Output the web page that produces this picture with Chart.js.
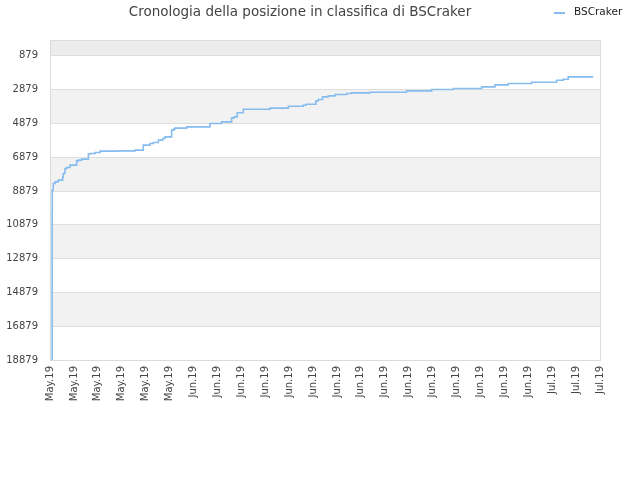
<!DOCTYPE html>
<html>
<head>
<meta charset="utf-8">
<script src="https://cdn.jsdelivr.net/npm/chart.js@4"></script>
<style>
  html, body { margin: 0; padding: 0; background: #fff; }
  #wrap { width: 640px; height: 480px; }
</style>
</head>
<body>
<div id="wrap"><canvas id="c" width="640" height="480"></canvas></div>
<script>
// ---- data ----
const chartTitle = "Cronologia della posizione in classifica di BSCraker";
const seriesName = "BSCraker";
// day offset from first tick (May 21) at which the rank changed
const days = [0.18, 0.19, 0.27, 0.42, 0.69, 1.06, 1.11, 1.25, 1.40, 1.67, 2.23, 2.37, 2.65, 3.21, 3.35, 3.77, 4.19, 5.71, 7.11, 7.80, 8.36, 8.64, 9.06, 9.43, 9.61, 10.17, 10.37, 10.45, 11.43, 13.38, 14.35, 15.19, 15.41, 15.66, 16.16, 18.40, 19.94, 21.18, 21.41, 22.24, 22.44, 22.80, 23.27, 23.84, 24.81, 25.22, 26.76, 29.82, 31.92, 33.73, 36.10, 37.21, 38.33, 40.28, 42.37, 42.92, 43.34, 44.32, 45.43];
const ranks = [18879, 10110, 8826, 8430, 8334, 8234, 8040, 7837, 7542, 7482, 7346, 7092, 7050, 6991, 6695, 6654, 6595, 6518, 6500, 6459, 6163, 6062, 6003, 5867, 5766, 5672, 5275, 5198, 5157, 5080, 4879, 4784, 4548, 4489, 4240, 4033, 3970, 3860, 3796, 3737, 3542, 3459, 3305, 3246, 3163, 3104, 3068, 3030, 2950, 2867, 2808, 2713, 2595, 2512, 2435, 2317, 2258, 2122, 2122];
const xTickLabels = ["May.19","May.19","May.19","May.19","May.19","May.19",
  "Jun.19","Jun.19","Jun.19","Jun.19","Jun.19","Jun.19","Jun.19","Jun.19","Jun.19","Jun.19","Jun.19","Jun.19","Jun.19","Jun.19","Jun.19",
  "Jul.19","Jul.19","Jul.19"];
const yTicks = [879, 2879, 4879, 6879, 8879, 10879, 12879, 14879, 16879, 18879];
const yMin = -50, yMax = 18879;

const points = days.map((d, i) => ({ x: d, y: ranks[i] }));

const bandsPlugin = {
  id: 'bands',
  beforeDraw(chart) {
    const { ctx, chartArea: a, scales: { y } } = chart;
    ctx.save();
    // top band (above first tick)
    ctx.fillStyle = '#ececec';
    let p0 = y.getPixelForValue(yMin), p1 = y.getPixelForValue(yTicks[0]);
    ctx.fillRect(a.left, Math.min(p0, p1), a.right - a.left, Math.abs(p1 - p0));
    ctx.fillStyle = '#f2f2f2';
    for (let i = 1; i + 1 < yTicks.length; i += 2) {
      const q0 = y.getPixelForValue(yTicks[i]), q1 = y.getPixelForValue(yTicks[i + 1]);
      ctx.fillRect(a.left, Math.min(q0, q1), a.right - a.left, Math.abs(q1 - q0));
    }
    ctx.restore();
  },
  afterDraw(chart) {
    const { ctx, chartArea: a } = chart;
    ctx.save();
    ctx.strokeStyle = '#dcdcdc';
    ctx.lineWidth = 1;
    ctx.strokeRect(Math.round(a.left) + 0.5, Math.round(a.top) + 0.5, Math.round(a.right - a.left), Math.round(a.bottom - a.top));
    // legend
    const ds = chart.data.datasets[0];
    ctx.strokeStyle = ds.borderColor;
    ctx.lineWidth = 2;
    ctx.beginPath();
    ctx.moveTo(554, 13);
    ctx.lineTo(565, 13);
    ctx.stroke();
    ctx.fillStyle = '#222';
    ctx.font = '10.5px "DejaVu Sans"';
    ctx.textBaseline = 'middle';
    ctx.textAlign = 'left';
    ctx.fillText(ds.label, 574, 12);
    ctx.restore();
  }
};

new Chart(document.getElementById('c'), {
  type: 'line',
  data: {
    datasets: [{
      label: seriesName,
      data: points,
      stepped: 'after',
      borderColor: '#86bcef',
      borderWidth: 1.6,
      pointRadius: 0,
      fill: false
    }]
  },
  options: {
    responsive: false,
    animation: false,
    layout: { padding: { left: 0, right: 40, top: 0, bottom: 0 } },
    plugins: {
      legend: { display: false },
      tooltip: { enabled: false },
      title: {
        display: true,
        text: chartTitle,
        color: '#444',
        font: { family: '"DejaVu Sans"', size: 13.5, weight: 'normal' },
        padding: { top: 4, bottom: 20 }
      }
    },
    scales: {
      x: {
        type: 'linear',
        min: 0,
        max: 46,
        afterFit(s) { s.height = 120; },
        afterBuildTicks(s) {
          s.ticks = xTickLabels.map((_, i) => ({ value: i * 2 }));
        },
        ticks: {
          autoSkip: false,
          maxRotation: 90,
          minRotation: 90,
          padding: 6,
          color: '#444',
          font: { family: '"DejaVu Sans"', size: 10 },
          callback: (v, i) => xTickLabels[i]
        },
        grid: { display: false, drawTicks: false },
        border: { display: false }
      },
      y: {
        type: 'linear',
        reverse: true,
        min: yMin,
        max: yMax,
        afterFit(s) { s.width = 50; },
        afterBuildTicks(s) {
          s.ticks = yTicks.map(v => ({ value: v }));
        },
        ticks: {
          padding: 12,
          color: '#444',
          font: { family: '"DejaVu Sans"', size: 10 },
          callback: (v) => String(v)
        },
        grid: { color: '#dedede', drawTicks: false },
        border: { display: false }
      }
    }
  },
  plugins: [bandsPlugin]
});
</script>
</body>
</html>
